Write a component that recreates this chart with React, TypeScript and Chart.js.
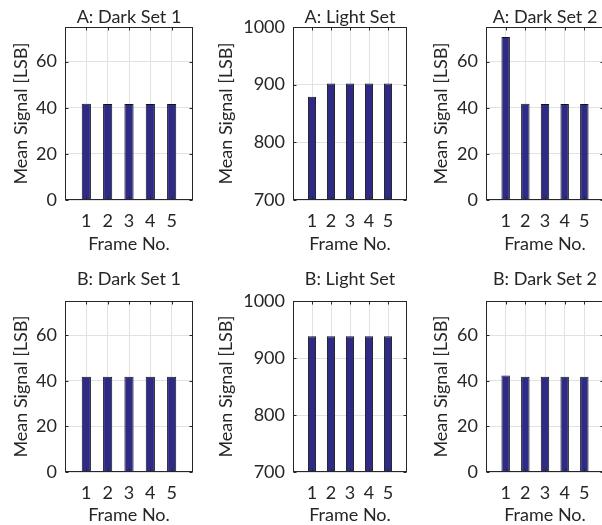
import React, { useEffect, useRef } from "react";
import { Chart, registerables } from "chart.js";

Chart.register(...registerables);

const frames = [1, 2, 3, 4, 5];
const darkTicks = [0, 20, 40, 60];
const lightTicks = [700, 800, 900, 1000];

const aDark1 = [41.7, 41.6, 41.6, 41.6, 41.6];
const aLight = [879, 902, 902, 902, 902];
const aDark2 = [70.7, 41.7, 41.6, 41.6, 41.6];
const bDark1 = [41.8, 41.8, 41.8, 41.8, 41.8];
const bLight = [938, 938, 938, 938, 938];
const bDark2 = [42.3, 41.8, 41.8, 41.8, 41.8];

const titles = [
  "A: Dark Set 1",
  "A: Light Set",
  "A: Dark Set 2",
  "B: Dark Set 1",
  "B: Light Set",
  "B: Dark Set 2",
];

const FONT = "Lato";
const FS = 18;
const TXT = "#262626";
const GRID = "#e2e2e2";
const BAR = "rgb(48,42,135)";

type Panel = {
  title: string;
  values: number[];
  yTicks: number[];
  yMin: number;
  yMax: number;
  cx: number; cy: number; cw: number; ch: number;
  L: number; R: number; T: number; B: number;
};

const rowTop = { T: 27, B: 200 };
const rowBot = { T: 301, B: 472 };

const panels: Panel[] = [
  { title: titles[0], values: aDark1, yTicks: darkTicks, yMin: 0, yMax: 75, cx: 0, cy: 0, cw: 200, ch: 261, L: 65, R: 193, ...rowTop },
  { title: titles[1], values: aLight, yTicks: lightTicks, yMin: 700, yMax: 1000, cx: 205, cy: 0, cw: 210, ch: 261, L: 293, R: 407, ...rowTop },
  { title: titles[2], values: aDark2, yTicks: darkTicks, yMin: 0, yMax: 75, cx: 420, cy: 0, cw: 200, ch: 261, L: 486, R: 604, ...rowTop },
  { title: titles[3], values: bDark1, yTicks: darkTicks, yMin: 0, yMax: 75, cx: 0, cy: 262, cw: 200, ch: 270, L: 65, R: 193, ...rowBot },
  { title: titles[4], values: bLight, yTicks: lightTicks, yMin: 700, yMax: 1000, cx: 205, cy: 262, cw: 210, ch: 270, L: 293, R: 407, ...rowBot },
  { title: titles[5], values: bDark2, yTicks: darkTicks, yMin: 0, yMax: 75, cx: 420, cy: 262, cw: 200, ch: 270, L: 486, R: 604, ...rowBot },
];

const boxPlugin = {
  id: "boxTicks",
  afterDraw(chart: any) {
    const { ctx, chartArea: a, scales } = chart;
    ctx.save();
    ctx.strokeStyle = TXT;
    ctx.lineWidth = 1;
    const l = Math.round(a.left) + 0.5;
    const t0 = Math.round(a.top) + 0.5;
    const r = Math.round(a.right) - 0.5;
    const b = Math.round(a.bottom) - 0.5;
    ctx.strokeRect(l, t0, r - l, b - t0);
    const tl = 3;
    ctx.beginPath();
    for (const t of scales.x.ticks) {
      const px = Math.round(scales.x.getPixelForValue(t.value)) + 0.5;
      ctx.moveTo(px, b);
      ctx.lineTo(px, b - tl);
      ctx.moveTo(px, t0);
      ctx.lineTo(px, t0 + tl);
    }
    for (const t of scales.y.ticks) {
      const py = Math.round(scales.y.getPixelForValue(t.value)) + 0.5;
      ctx.moveTo(l, py);
      ctx.lineTo(l + tl, py);
      ctx.moveTo(r, py);
      ctx.lineTo(r - tl, py);
    }
    ctx.stroke();
    ctx.restore();
  },
};

function PanelChart({ p }: { p: Panel }) {
  const ref = useRef<HTMLCanvasElement>(null);
  useEffect(() => {
    const font = { family: FONT, size: FS };
    const chart = new Chart(ref.current!, {
      type: "bar",
      data: {
        datasets: [
          {
            data: frames.map((f, i) => ({ x: f, y: p.values[i] })),
            backgroundColor: BAR,
            borderColor: "#141414",
            borderWidth: 1,
            barPercentage: 0.43,
            categoryPercentage: 1,
          },
        ],
      },
      options: {
        animation: false,
        responsive: false,
        maintainAspectRatio: false,
        devicePixelRatio: 1,
        layout: { padding: { left: 0, top: 0, bottom: 0, right: p.cx + p.cw - p.R } },
        plugins: { legend: { display: false }, tooltip: { enabled: false }, title: { display: false } },
        scales: {
          x: {
            type: "linear",
            position: "bottom",
            min: 0,
            max: 6,
            offset: false,
            afterBuildTicks: (s: any) => { s.ticks = frames.map((v) => ({ value: v })); },
            afterFit: (s: any) => { s.height = p.cy + p.ch - p.B; },
            grid: { color: GRID, drawTicks: false, offset: false },
            border: { display: false },
            ticks: { font, color: TXT, padding: 10, autoSkip: false, maxRotation: 0, callback: (v: any) => String(v) },
            title: { display: true, text: "Frame No.", font, color: TXT, padding: { top: 0, bottom: 6 } },
          },
          xTop: {
            type: "linear",
            position: "top",
            min: 0,
            max: 6,
            afterFit: (s: any) => { s.height = p.T - p.cy; },
            grid: { display: false, drawTicks: false },
            border: { display: false },
            ticks: { display: false },
            title: { display: true, text: p.title, font, color: TXT, padding: { top: 6, bottom: 0 } },
          },
          y: {
            type: "linear",
            min: p.yMin,
            max: p.yMax,
            afterBuildTicks: (s: any) => { s.ticks = p.yTicks.map((v) => ({ value: v })); },
            afterFit: (s: any) => { s.width = p.L - p.cx; },
            grid: { color: GRID, drawTicks: false },
            border: { display: false },
            ticks: { font, color: TXT, padding: 8, callback: (v: any) => String(v) },
            title: { display: true, text: "Mean Signal [LSB]", font, color: TXT, padding: { top: 10, bottom: 0 } },
          },
        },
      } as any,
      plugins: [boxPlugin],
    });
    return () => chart.destroy();
  }, [p]);
  return (
    <canvas
      ref={ref}
      width={p.cw}
      height={p.ch}
      style={{ position: "absolute", left: p.cx, top: p.cy, width: p.cw, height: p.ch }}
    />
  );
}

export default function App() {
  return (
    <div style={{ position: "fixed", left: 0, top: 0, width: 602, height: 525, overflow: "hidden", background: "#fff" }}>
      {panels.map((p, i) => (
        <PanelChart key={i} p={p} />
      ))}
    </div>
  );
}
